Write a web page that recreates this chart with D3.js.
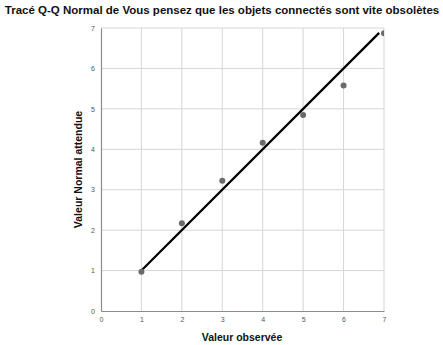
<!DOCTYPE html>
<html>
<head>
<meta charset="utf-8">
<script src="https://cdn.jsdelivr.net/npm/d3@7"></script>
<style>
  html, body { margin: 0; padding: 0; background: #fff; }
  svg { display: block; }
</style>
</head>
<body>
<svg id="chart" width="443" height="345"></svg>
<script>
// Observed values and their expected normal values
const observed = [1, 2, 3, 4, 5, 6, 7];
const expected = [0.97, 2.17, 3.22, 4.16, 4.85, 5.58, 6.87];
// Reference line y = x, drawn across the observed range
const refLine = [1, 6.88];
const tickValues = [0, 1, 2, 3, 4, 5, 6, 7];

const titleText = "Tracé Q-Q Normal de Vous pensez que les objets connectés sont vite obsolètes";
const xTitle = "Valeur observée";
const yTitle = "Valeur Normal attendue";

const W = 443, H = 345;
const margin = { left: 101, right: 59, top: 28, bottom: 33 };
const svg = d3.select("#chart");
const font = "'Liberation Sans', Arial, sans-serif";

const x = d3.scaleLinear().domain([0, 7]).range([margin.left, W - margin.right]);
const y = d3.scaleLinear().domain([0, 7]).range([H - margin.bottom - 1, margin.top]);

// Grid
const grid = svg.append("g");
grid.selectAll("line.v").data(tickValues.slice(1)).join("line")
  .attr("x1", d => x(d)).attr("x2", d => x(d))
  .attr("y1", y(0)).attr("y2", y(7))
  .attr("stroke", "#d6d6d6").attr("stroke-width", 1);
grid.selectAll("line.h").data(tickValues.slice(1)).join("line")
  .attr("y1", d => y(d)).attr("y2", d => y(d))
  .attr("x1", x(0)).attr("x2", x(7))
  .attr("stroke", "#d6d6d6").attr("stroke-width", 1);

// Axes
const xAxis = svg.append("g")
  .attr("transform", `translate(0,${y(0)})`)
  .call(d3.axisBottom(x).tickValues(tickValues).tickSize(0).tickPadding(6).tickFormat(d3.format("d")));
const yAxis = svg.append("g")
  .attr("transform", `translate(${x(0)},0)`)
  .call(d3.axisLeft(y).tickValues(tickValues).tickSize(0).tickPadding(6).tickFormat(d3.format("d")));
[xAxis, yAxis].forEach(a => {
  a.select(".domain").attr("stroke", "#8c8c8c").attr("stroke-width", 1.2);
  a.selectAll("text").attr("font-family", font).attr("font-size", 7).attr("fill", "#555");
});

// Clip to the plotting area
svg.append("clipPath").attr("id", "plotClip").append("rect")
  .attr("x", x(0)).attr("y", y(7)).attr("width", x(7) - x(0)).attr("height", y(0) - y(7));
const plot = svg.append("g").attr("clip-path", "url(#plotClip)");

// Reference line
plot.append("line")
  .attr("x1", x(refLine[0])).attr("y1", y(refLine[0]))
  .attr("x2", x(refLine[1])).attr("y2", y(refLine[1]))
  .attr("stroke", "#000").attr("stroke-width", 2.2);

// Points
plot.selectAll("circle").data(observed).join("circle")
  .attr("cx", d => x(d))
  .attr("cy", (d, i) => y(expected[i]))
  .attr("r", 3)
  .attr("fill", "#6a6a6a");

// Titles
svg.append("text")
  .attr("x", 222).attr("y", 14)
  .attr("text-anchor", "middle")
  .attr("font-family", font).attr("font-weight", "bold").attr("font-size", 11.5)
  .attr("fill", "#111")
  .text(titleText);
svg.append("text")
  .attr("x", 242).attr("y", 341)
  .attr("text-anchor", "middle")
  .attr("font-family", font).attr("font-weight", "bold").attr("font-size", 10.5)
  .attr("fill", "#111")
  .text(xTitle);
svg.append("text")
  .attr("transform", `translate(82,${(y(0) + y(7)) / 2}) rotate(-90)`)
  .attr("text-anchor", "middle")
  .attr("font-family", font).attr("font-weight", "bold").attr("font-size", 10.5)
  .attr("fill", "#111")
  .text(yTitle);
</script>
</body>
</html>
